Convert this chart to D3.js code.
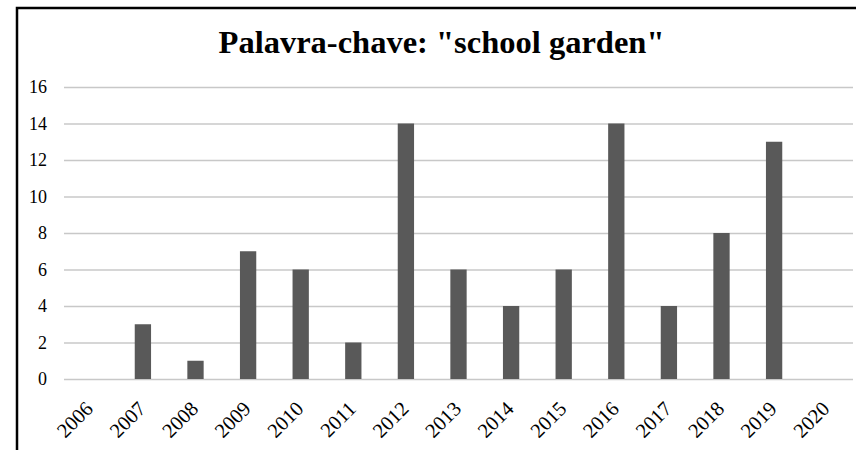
<!DOCTYPE html>
<html><head><meta charset="utf-8">
<script src="https://cdn.jsdelivr.net/npm/d3@7"></script>
<style>body{margin:0;background:#fff}svg{display:block}</style>
</head><body>
<script>
const years = ["2006","2007","2008","2009","2010","2011","2012","2013","2014","2015","2016","2017","2018","2019","2020"];
const counts = [0,3,1,7,6,2,14,6,4,6,14,4,8,13,0];
const yTicks = [0,2,4,6,8,10,12,14,16];
const title = 'Palavra-chave: "school garden"';

const W = 856, H = 450;
const svg = d3.select("body").append("svg").attr("width", W).attr("height", H);
svg.append("rect").attr("width", W).attr("height", H).attr("fill", "#fff");
svg.append("rect").attr("x", 17).attr("y", 8).attr("width", 880).attr("height", 480)
  .attr("fill", "none").attr("stroke", "#000").attr("stroke-width", 2.5);

const x = d3.scaleBand().domain(years).range([64, 853]).paddingInner(0.69).paddingOuter(0.345);
const y = d3.scaleLinear().domain([0, 16]).range([379, 87]);

const font = "'Liberation Serif','Times New Roman',serif";

svg.append("text").attr("x", 441.5).attr("y", 53).attr("text-anchor", "middle")
  .attr("font-family", font).attr("font-weight", "bold").attr("font-size", 32.5).attr("fill", "#000")
  .text(title);

const yAxis = svg.append("g").attr("transform", "translate(64,0)")
  .call(d3.axisLeft(y).tickValues(yTicks).tickSize(-789).tickPadding(17));
yAxis.select(".domain").remove();
yAxis.selectAll(".tick line").attr("stroke", "#c8c8c8").attr("stroke-width", 1.3);
yAxis.selectAll(".tick text").attr("font-family", font).attr("font-size", 18).attr("fill", "#000");

svg.append("g").selectAll("rect").data(years).join("rect")
  .attr("x", d => x(d)).attr("width", x.bandwidth())
  .attr("y", (d,i) => y(counts[i])).attr("height", (d,i) => y(0) - y(counts[i]))
  .attr("fill", "#595959");

const xAxis = svg.append("g").attr("transform", "translate(0,379)")
  .call(d3.axisBottom(x).tickSize(0).tickPadding(0));
xAxis.select(".domain").remove();
xAxis.selectAll(".tick text")
  .attr("font-family", font).attr("font-size", 20.5).attr("fill", "#000")
  .attr("text-anchor", "end").attr("dy", 0).attr("y", 0)
  .attr("transform", "translate(4,31) rotate(-45)");
</script>
</body></html>
